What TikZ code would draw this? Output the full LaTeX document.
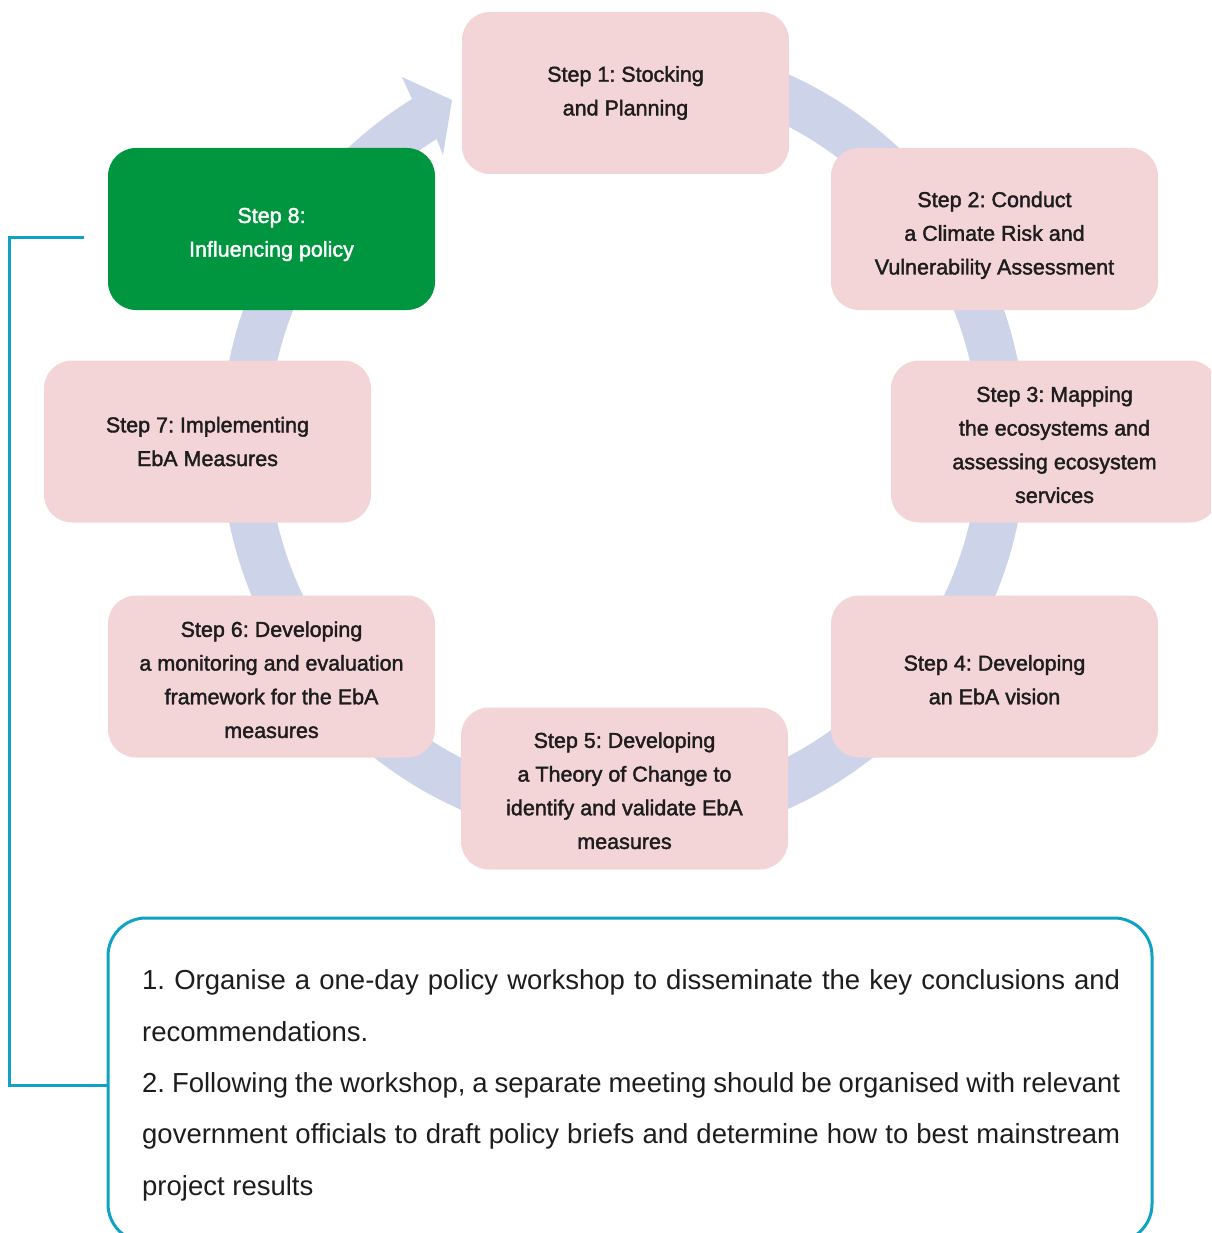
\documentclass[tikz,border=0pt]{standalone}
\usepackage{fontspec}
\setmainfont{Liberation Sans}
\newfontfamily\stepfont[FakeBold=1.8]{Liberation Sans}
\usetikzlibrary{calc}

\definecolor{stepfill}{RGB}{243,213,215}
\definecolor{policygreen}{RGB}{0,150,64}
\definecolor{ringblue}{RGB}{205,211,232}
\definecolor{linkteal}{RGB}{16,162,196}
\definecolor{inktext}{RGB}{30,28,30}

% strut on a first line to push a caption down inside its box
\newcommand\capdrop[1]{\rule{0pt}{#1}}

\tikzset{
  stepbox/.style={fill=stepfill, rounded corners=28pt, minimum width=327pt,
    minimum height=162pt, inner sep=0pt, align=center, text=inktext,
    font=\stepfont\fontsize{21.5}{33.7}\selectfont},
  greenbox/.style={stepbox, fill=policygreen, text=white},
  link/.style={draw=linkteal, line width=3pt},
  notebox/.style={draw=linkteal, line width=3pt, rounded corners=38pt,
    minimum width=1044pt, minimum height=324pt, inner sep=0pt},
  notetext/.style={anchor=north west, text width=978pt, inner sep=0pt,
    align=justify, text=inktext, font=\fontsize{27.5}{51.3}\selectfont}
}

\begin{document}
\frenchspacing
\begin{tikzpicture}[x=1pt, y=1pt]
\useasboundingbox (0,0) rectangle (1211,-1233);
\clip (0,0) rectangle (1211,-1233);

% circular cycle arrow behind the steps
\coordinate (C) at (623.5,-441.5);
\fill[ringblue] ($(C)+(100:402.5)$) arc[start angle=100, end angle=-238.3, radius=402.5]
  -- (402,-77) -- (452,-100) -- (443,-155)
  -- ($(C)+(-238.3:355.5)$) arc[start angle=-238.3, end angle=100, radius=355.5] -- cycle;

% the eight steps
\node[stepbox] (s1) at (625.5,-93) {Step 1: Stocking\\and Planning};
\node[stepbox] (s2) at (994.5,-229) {\capdrop{28pt}Step 2: Conduct\\a Climate Risk and\\Vulnerability Assessment};
\node[stepbox] (s3) at (1054.5,-441.5) {\capdrop{22pt}Step 3: Mapping\\the ecosystems and\\assessing ecosystem\\services};
\node[stepbox] (s4) at (994.5,-676.5) {\capdrop{22pt}Step 4: Developing\\an EbA vision};
\node[stepbox] (s5) at (624.5,-788.5) {\capdrop{20pt}Step 5: Developing\\a Theory of Change to\\identify and validate EbA\\measures};
\node[stepbox] (s6) at (271.5,-676.5) {\capdrop{22pt}Step 6: Developing\\a monitoring and evaluation\\framework for the EbA\\measures};
\node[stepbox] (s7) at (207.5,-441.5) {Step 7: Implementing\\EbA Measures};
\node[greenbox] (s8) at (271.5,-229) {\capdrop{26pt}Step 8:\\Influencing policy};

% detail box for step 8
\node[notebox] (policy) at (630,-1080) {};
\node[notetext] (policytext) at (142,-969.7) {1. Organise a one-day policy workshop to disseminate the key conclusions and\linebreak
recommendations.\newline
2. Following the workshop, a separate meeting should be organised with relevant\linebreak
government officials to draft policy briefs and determine how to best mainstream\linebreak
project results};

% bracket from step 8 to its detail box
\coordinate (b8) at (84,-238);
\draw[link] (b8) -- ++(-75,0) |- ([yshift=-5pt]policy.west);
\end{tikzpicture}
\end{document}
